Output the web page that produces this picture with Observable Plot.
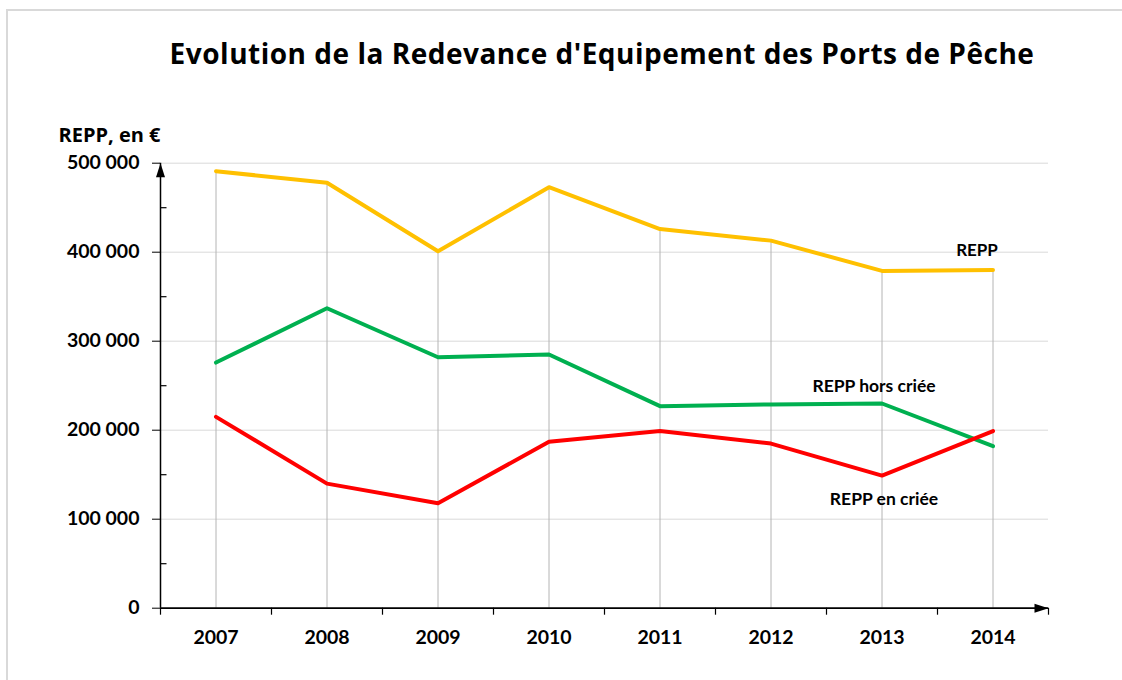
<!DOCTYPE html>
<html><head><meta charset="utf-8">
<script src="https://cdn.jsdelivr.net/npm/d3@7"></script>
<script src="https://cdn.jsdelivr.net/npm/@observablehq/plot@0.6"></script>
<style>
body{margin:0;background:#fff;font-family:Lato,sans-serif;}
#wrap{position:relative;width:1122px;height:680px;overflow:hidden;background:#fff;}
#frame{position:absolute;left:6px;top:9px;width:1130px;height:700px;border-left:2px solid #d9d9d9;border-top:2px solid #d9d9d9;pointer-events:none;}
#title{position:relative;height:105px;box-sizing:border-box;padding-top:38.5px;padding-left:82px;text-align:center;font:bold 28px/28px "Open Sans",sans-serif;color:#000;white-space:nowrap;}
#wrap svg{display:block;}
</style>
</head><body>
<div id="wrap"><div id="frame"></div><div id="title"><span id="tt">Evolution de la Redevance d'Equipement des Ports de Pêche</span></div></div>
<script>
const years = [2007, 2008, 2009, 2010, 2011, 2012, 2013, 2014];
const repp = [491000, 478000, 401000, 473000, 426000, 413000, 379000, 380000];
const reppHors = [276000, 337000, 282000, 285000, 227000, 229000, 230000, 182000];
const reppEn = [215000, 140000, 118000, 187000, 199000, 185000, 149000, 199000];
const yMajor = [0, 100000, 200000, 300000, 400000, 500000];
const yMinor = [50000, 150000, 250000, 350000, 450000];
const seriesNames = ["REPP", "REPP hors criée", "REPP en criée"];
const yLabel = "REPP, en €";

// fit title width to the reference extent
const tt = document.getElementById("tt");
const w = tt.getBoundingClientRect().width;
const n = tt.textContent.length;
tt.style.letterSpacing = ((865 - w) / n).toFixed(2) + "px";

const rows = years.map((yr, i) => ({year: yr, total: repp[i], hors: reppHors[i], en: reppEn[i]}));
const bounds = [...years.map(y => y - 0.5), years[years.length - 1] + 0.5];
const x0 = bounds[0], x1 = bounds[bounds.length - 1];
const yTop = yMajor[yMajor.length - 1];
const fmt = d => d3.format(",")(d).replace(/,/g, " ");

const arrowUp = {draw(ctx) { ctx.moveTo(0, 0); ctx.lineTo(-4.5, 14); ctx.lineTo(4.5, 14); ctx.closePath(); }};
const tickRight = {draw(ctx) { ctx.moveTo(0, 0); ctx.lineTo(6, 0); }};
const last = years.length - 1;

const chart = Plot.plot({
  width: 1122, height: 575,
  marginLeft: 160, marginRight: 74, marginTop: 57.7, marginBottom: 72.3,
  style: {fontFamily: "Lato, sans-serif", fontWeight: "bold", fontSize: "19.5px", color: "#000", background: "transparent"},
  x: {type: "linear", domain: [x0, x1], axis: null},
  y: {domain: [0, yTop], axis: null},
  marks: [
    Plot.gridY(yMajor.filter(d => d > 0), {stroke: "#d9d9d9", strokeOpacity: 1, strokeWidth: 1}),
    Plot.ruleX(rows, {x: "year", y1: 0, y2: "total", stroke: "#b4b4b4", strokeWidth: 1}),
    Plot.line(rows, {x: "year", y: "total", stroke: "#FFC000", strokeWidth: 4, strokeLinejoin: "round", strokeLinecap: "round"}),
    Plot.line(rows, {x: "year", y: "hors", stroke: "#00B050", strokeWidth: 4, strokeLinejoin: "round", strokeLinecap: "round"}),
    Plot.line(rows, {x: "year", y: "en", stroke: "#FF0000", strokeWidth: 4, strokeLinejoin: "round", strokeLinecap: "round"}),
    Plot.ruleX([x0], {y1: 0, y2: yTop, stroke: "#000", strokeWidth: 1.5}),
    Plot.ruleY([0], {x1: x0, x2: x1, stroke: "#000", strokeWidth: 1.75}),
    Plot.axisY(yMajor, {tickSize: 8, tickPadding: 13, tickFormat: fmt, label: null, fontSize: 19.5, stroke: "#000"}),
    Plot.dot(yMinor, {x: x0, y: d => d, symbol: tickRight, stroke: "#000", fill: "none", strokeWidth: 1.2}),
    Plot.axisX(bounds, {tickSize: 7, tickFormat: () => "", label: null, strokeWidth: 1.2}),
    Plot.axisX(years, {tickSize: 0, tickPadding: 22, tickFormat: d => String(d), label: null, fontSize: 19.5}),
    Plot.dot([yTop], {x: x0, y: d => d, symbol: arrowUp, fill: "#000", stroke: "none"}),
    Plot.dot([0], {x: x1, y: d => d, symbol: arrowUp, rotate: 90, fill: "#000", stroke: "none"}),
    Plot.text([yLabel], {frameAnchor: "top-left", dx: -102, dy: -21.7, textAnchor: "start", lineAnchor: "bottom", fontSize: 20, fontWeight: "bold", fontFamily: "Open Sans, sans-serif"}),
    Plot.text([seriesNames[0]], {x: years[last], y: repp[last], dx: -16, dy: -19, fontSize: 17, fontWeight: "bold"}),
    Plot.text([seriesNames[1]], {x: years[last - 1], y: reppHors[last - 1], dx: -8, dy: -17, fontSize: 17.5, fontWeight: "bold"}),
    Plot.text([seriesNames[2]], {x: years[last - 1], y: reppEn[last - 1], dx: 2, dy: 24, fontSize: 17.5, fontWeight: "bold"})
  ]
});
document.getElementById("wrap").appendChild(chart);
</script>
</body></html>
